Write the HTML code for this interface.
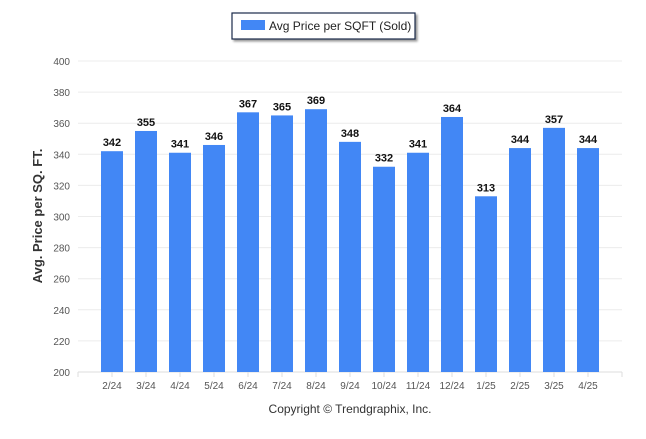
<!DOCTYPE html>
<html><head><meta charset="utf-8"><style>
body{margin:0;background:#fff;font-family:"Liberation Sans",sans-serif}
</style></head><body>
<svg id="c" width="646" height="434" xmlns="http://www.w3.org/2000/svg">
<g>
<rect x="232" y="13" width="183" height="26" fill="#fff" stroke="#1a2a4a" stroke-width="1.2" style="filter:drop-shadow(2px 2px 1px #999)"/>
<rect x="241" y="20" width="24" height="10" fill="#4287f5"/>
<text x="269" y="30" font-size="12" fill="#222">Avg Price per SQFT (Sold)</text>
</g>
<text transform="translate(42,216) rotate(-90)" text-anchor="middle" font-size="13" font-weight="bold" fill="#333">Avg. Price per SQ. FT.</text>
<text x="350" y="413" text-anchor="middle" font-size="12" fill="#333">Copyright © Trendgraphix, Inc.</text>
<g id="grid"></g><g id="bars"></g>
</svg>
<script>
const categories=["2/24","3/24","4/24","5/24","6/24","7/24","8/24","9/24","10/24","11/24","12/24","1/25","2/25","3/25","4/25"];
const values=[342,355,341,346,367,365,369,348,332,341,364,313,344,357,344];
const yTicks=[200,220,240,260,280,300,320,340,360,380,400];
const ns="http://www.w3.org/2000/svg";
const L=78,R=622,T=61,B=372,ymin=200,ymax=400;
const band=(R-L)/(categories.length+1);
const x=i=>L+band*(i+1);
const y=v=>B-(v-ymin)/(ymax-ymin)*(B-T);
const g=document.getElementById('grid'),b=document.getElementById('bars');
function mk(t,a,p){const e=document.createElementNS(ns,t);for(const k in a)e.setAttribute(k,a[k]);p.appendChild(e);return e;}
yTicks.forEach(v=>{
 const ln=mk('line',{x1:L,x2:R,y1:y(v),y2:y(v),stroke:v===ymin?'#ddd':'#ececec','stroke-width':1},g);
 
 
 const t=mk('text',{x:70,y:y(v)+4,'text-anchor':'end','font-size':10,fill:'#555'},g);
 
 
 t.textContent=v;
});
[L,R].forEach(px=>mk('line',{x1:px,x2:px,y1:B,y2:B+5,stroke:'#ddd'},g));
categories.forEach((c,i)=>{
 const cx=x(i);
 mk('line',{x1:cx,x2:cx,y1:B,y2:B+5,stroke:'#ddd'},g);
 const r=mk('rect',{x:cx-11,y:y(values[i]),width:22,height:B-y(values[i]),fill:'#4287f5'},b);
 
 
 const vt=mk('text',{x:cx,y:y(values[i])-5,'text-anchor':'middle','font-size':11,'font-weight':'bold',fill:'#111'},b);
 
 
 vt.textContent=values[i];
 const xt=mk('text',{x:cx,y:B+17,'text-anchor':'middle','font-size':10,fill:'#555'},b);
 
 
 xt.textContent=c;
});
</script>
</body></html>
